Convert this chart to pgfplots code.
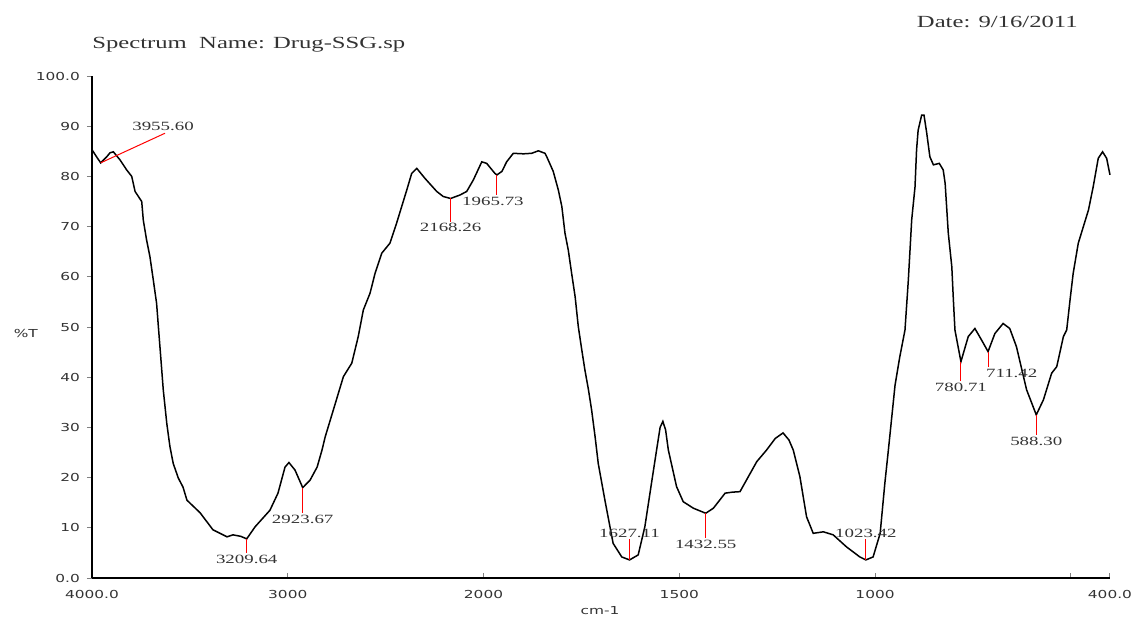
\documentclass[border=0pt]{standalone}
\usepackage{pgfplots}
\pgfplotsset{compat=1.18}
\usepackage{pgfplotstable}
\usepackage{fontspec}
\setmainfont{Liberation Serif}[FakeStretch=1.45]
\newfontfamily\tickfont{DejaVu Sans}[FakeStretch=1.4]
\newfontfamily\peakfont{Liberation Serif}[FakeStretch=1.5]
\definecolor{txt}{HTML}{333333}
\pgfplotstableread{
wn T
4000 85.3
3993 84.9
3975 83.8
3955.6 82.7
3925 83.9
3908 84.7
3891 84.9
3857 83.3
3823 81.3
3797 80.0
3780 77.0
3746 75.0
3738 71.3
3721 67.3
3704 64.0
3687 59.4
3670 54.7
3661 50.1
3649 44.1
3636 37.5
3618 30.8
3602 26.2
3585 22.8
3559 19.9
3535 18.1
3515 15.5
3448 13.0
3382 9.6
3310 8.2
3280 8.6
3240 8.3
3209.64 7.8
3167 10.2
3091 13.5
3050 16.9
3014 22.1
2994 23.0
2963 21.5
2923.67 18.0
2886 19.5
2850 22.1
2825 25.5
2809 28.1
2767 33.5
2716 40.1
2673 42.8
2640 48.1
2614 53.4
2580 56.7
2554 60.7
2520 64.7
2478 66.7
2444 70.7
2418 74.0
2392 77.3
2367 80.6
2341 81.6
2299 79.6
2239 77.0
2206 76.0
2168.26 75.6
2120 76.3
2086 77.0
2052 79.3
2009 82.9
1992 82.6
1971 80.6
1965.73 80.3
1953 81.0
1941 82.9
1924 84.6
1898 84.5
1877 84.6
1860 85.1
1843 84.6
1839 84.0
1822 81.0
1809 77.3
1800 74.0
1792 68.7
1783.5 65.3
1775 60.7
1766 56.0
1758 50.1
1749 45.4
1741 41.4
1732 37.5
1724 33.5
1715 28.1
1707 22.8
1690 15.5
1669 6.9
1647 4.2
1627.11 3.6
1605 4.6
1588 10.2
1571 18.9
1558 25.5
1549 30.0
1542 31.2
1535 29.5
1528 25.5
1507 18.2
1490 15.2
1464 13.9
1432.55 12.9
1413 13.9
1383 16.9
1365 17.1
1345 17.2
1302 23.2
1277 25.5
1255 27.8
1235 28.9
1220 27.5
1209 25.5
1192 20.2
1175 12.2
1158 8.9
1132 9.2
1107 8.6
1073 6.2
1039 4.2
1023.42 3.6
1005 4.2
987 8.9
975 18.9
966 25.5
949 38.4
937 44.0
923.6 49.4
915 59.4
906.5 71.3
898 77.9
894 85.3
890 89.2
881 92.2
875 92.2
868 88.6
860 83.9
851 82.3
836 82.6
826 81.3
821 78.6
813 68.7
804 62.0
800 55.4
796 49.4
780.71 43.1
762 48.1
745 49.7
728 47.4
711.42 45.1
694 48.7
673 50.7
656 49.7
639 46.1
613 37.5
588.30 32.5
570 35.5
549 40.8
536 42.1
519 48.1
510.6 49.4
502 55.4
494 60.7
481 66.7
468 70.0
455 73.3
443 77.9
430 83.6
419 84.9
408.5 83.6
400 80.3
}\spectrum
\begin{document}
\begin{tikzpicture}
\path[use as bounding box] (-46pt,-20pt) rectangle (522pt,289pt);
\begin{axis}[
  at={(0,0)}, anchor=south west,
  scale only axis, width=509pt, height=251pt,
  x coord trafo/.code={\pgfmathparse{#1>=2000 ? 4000-#1 : 6000-2*#1}},
  xmin=4000, xmax=400, ymin=0, ymax=100,
  axis x line*=bottom, axis y line*=left,
  axis line style={line width=0.7pt},
  xtick={4000,3000,2000,1500,1000,500,400},
  xticklabels={4000.0,3000,2000,1500,1000,,400.0},
  ytick={0,10,20,30,40,50,60,70,80,90,100},
  yticklabels={0.0,10,20,30,40,50,60,70,80,90,100.0},
  tick align=outside, major tick length=2.5pt,
  xtick style={yshift=2.5pt, line width=0.5pt},
  ytick style={line width=0.5pt},
  tick label style={font=\tickfont\fontsize{5.5}{6}\selectfont, text=txt},
  clip=false,
]
\addplot[black, line width=0.75pt] table[x=wn, y=T] {\spectrum};
% peak markers
\addplot[red, line width=0.5pt] coordinates {(3955.6,82.7) (3627,88.6)};
\addplot[red, line width=0.5pt] coordinates {(3209.64,7.8) (3209.64,5.0)};
\addplot[red, line width=0.5pt] coordinates {(2923.67,18.0) (2923.67,12.9)};
\addplot[red, line width=0.5pt] coordinates {(2168.26,75.6) (2168.26,71.0)};
\addplot[red, line width=0.5pt] coordinates {(1965.73,80.3) (1965.73,76.3)};
\addplot[red, line width=0.5pt] coordinates {(1627.11,3.6) (1627.11,7.7)};
\addplot[red, line width=0.5pt] coordinates {(1432.55,12.9) (1432.55,7.9)};
\addplot[red, line width=0.5pt] coordinates {(1023.42,3.6) (1023.42,7.7)};
\addplot[red, line width=0.5pt] coordinates {(780.71,43.1) (780.71,39.2)};
\addplot[red, line width=0.5pt] coordinates {(711.42,45.1) (711.42,42.1)};
\addplot[red, line width=0.5pt] coordinates {(588.30,32.5) (588.30,28.5)};
\tikzset{pk/.style={font=\peakfont\fontsize{6.3}{7}\selectfont, text=txt, inner sep=0.8pt}}
\node[pk, anchor=south] at (axis cs:3637,88.8) {3955.60};
\node[pk, anchor=north] at (axis cs:3209.64,5.0) {3209.64};
\node[pk, anchor=north] at (axis cs:2923.67,12.9) {2923.67};
\node[pk, anchor=north] at (axis cs:2168.26,71.0) {2168.26};
\node[pk, anchor=north, xshift=-2pt] at (axis cs:1965.73,76.3) {1965.73};
\node[pk, anchor=south] at (axis cs:1627.11,7.7) {1627.11};
\node[pk, anchor=north] at (axis cs:1432.55,7.9) {1432.55};
\node[pk, anchor=south] at (axis cs:1023.42,7.7) {1023.42};
\node[pk, anchor=north] at (axis cs:780.71,39.2) {780.71};
\node[pk, anchor=north west, xshift=-2pt] at (axis cs:711.42,42.1) {711.42};
\node[pk, anchor=north] at (axis cs:588.30,28.5) {588.30};
% titles
\node[anchor=west, inner sep=0pt, font=\fontsize{8.5}{10}\selectfont, text=txt] at (axis description cs:0.0,1.062) {Spectrum\ \ Name: Drug-SSG.sp};
\node[anchor=east, inner sep=0pt, font=\fontsize{8.5}{10}\selectfont, text=txt] at (axis description cs:0.9686,1.1076) {Date: 9/16/2011};
\node[font=\tickfont\fontsize{5.5}{6}\selectfont, text=txt] at (axis description cs:-0.065,0.488) {\%T};
\node[font=\tickfont\fontsize{5.5}{6}\selectfont, text=txt] at (axis description cs:0.499,-0.064) {cm-1};
\end{axis}
\end{tikzpicture}
\end{document}
